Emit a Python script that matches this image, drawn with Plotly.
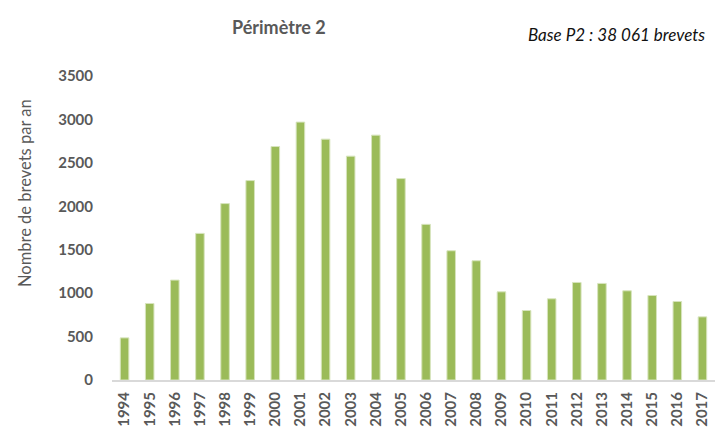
import plotly.graph_objects as go

years = [str(y) for y in range(1994, 2018)]
brevets = [485, 881, 1150, 1688, 2031, 2296, 2688, 2969, 2773, 2577, 2819, 2319,
           1792, 1488, 1373, 1015, 800, 935, 1123, 1112, 1027, 973, 904, 727]
y_ticks = [0, 500, 1000, 1500, 2000, 2500, 3000, 3500]

FONT = "Lato"
GREY = "#595959"

W, H = 716, 430
l, r, t, b = 112, 1, 76, 50
pw, ph = W - l - r, H - t - b


def px(x, y):
    return (x - l) / pw, (H - b - y) / ph


fig = go.Figure()
fig.add_trace(go.Bar(
    x=years, y=brevets,
    marker=dict(color="#9BBB59", line=dict(color="#D7E4BD", width=1)),
    width=0.34,
))

tx, ty = px(279, 27)
bx, by = px(707, 35)
yx, yy = px(25, 193)

fig.update_layout(
    width=W, height=H,
    margin=dict(l=l, r=r, t=t, b=b),
    paper_bgcolor="white", plot_bgcolor="white",
    showlegend=False,
    font=dict(family=FONT, color=GREY),
    xaxis=dict(
        type="category", tickangle=-90, showgrid=False,
        showline=True, linecolor="#D9D9D9", linewidth=2,
        ticks="", tickfont=dict(family=FONT, size=15, color=GREY, weight="bold"),
        ticklabelstandoff=4,
    ),
    yaxis=dict(
        range=[0, 3500], tickvals=y_ticks, showgrid=False, zeroline=False,
        showline=False, ticks="",
        tickfont=dict(family=FONT, size=15, color=GREY, weight="bold"),
        ticklabelstandoff=18,
    ),
    annotations=[
        dict(text="<b>Périmètre 2</b>", x=tx, y=ty, xref="paper", yref="paper",
             xanchor="center", yanchor="middle",
             showarrow=False, font=dict(family=FONT, size=18, color=GREY)),
        dict(text="<i>Base P2 : 38 061 brevets</i>", x=bx, y=by, xref="paper", yref="paper",
             xanchor="right", yanchor="middle",
             showarrow=False, font=dict(family=FONT, size=17, color="#111111")),
        dict(text="Nombre de brevets par an", x=yx, y=yy, xref="paper", yref="paper",
             xanchor="center", yanchor="middle", textangle=-90,
             showarrow=False, font=dict(family=FONT, size=16.5, color=GREY)),
    ],
)

fig.write_html("out.html", config={"displayModeBar": False},
               post_script="document.body.style.margin='0';document.body.style.overflow='hidden';")
